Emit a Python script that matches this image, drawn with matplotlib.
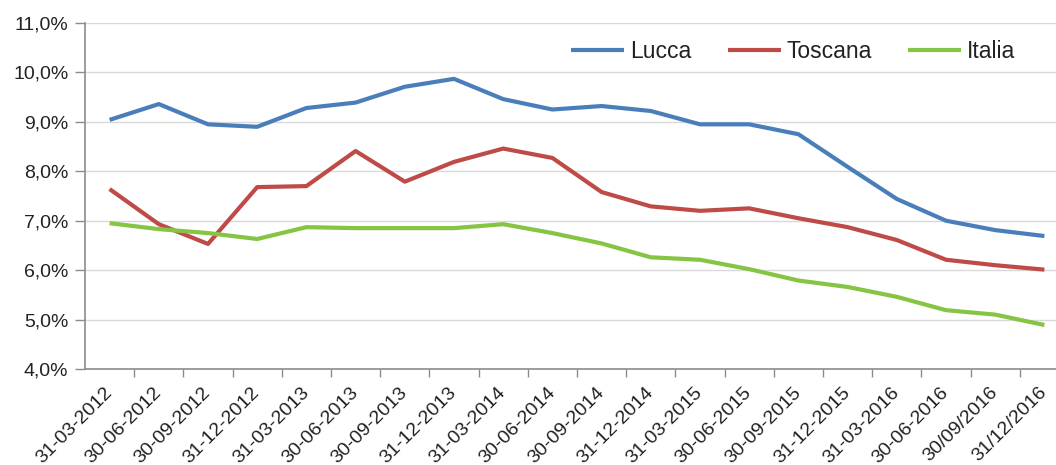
import matplotlib
matplotlib.use("Agg")
import matplotlib.pyplot as plt
from matplotlib.ticker import FuncFormatter, FixedLocator

# Quarterly dates
dates = [
    "31-03-2012", "30-06-2012", "30-09-2012", "31-12-2012",
    "31-03-2013", "30-06-2013", "30-09-2013", "31-12-2013",
    "31-03-2014", "30-06-2014", "30-09-2014", "31-12-2014",
    "31-03-2015", "30-06-2015", "30-09-2015", "31-12-2015",
    "31-03-2016", "30-06-2016", "30/09/2016", "31/12/2016",
]

# Rates in percent
lucca = [9.04, 9.36, 8.95, 8.90, 9.28, 9.39, 9.71, 9.87, 9.46, 9.25,
         9.32, 9.22, 8.95, 8.95, 8.75, 8.09, 7.44, 7.00, 6.81, 6.69]
toscana = [7.64, 6.93, 6.53, 7.68, 7.70, 8.41, 7.79, 8.19, 8.46, 8.27,
           7.58, 7.29, 7.20, 7.25, 7.05, 6.87, 6.61, 6.21, 6.10, 6.01]
italia = [6.95, 6.83, 6.75, 6.63, 6.87, 6.85, 6.85, 6.85, 6.93, 6.75,
          6.54, 6.26, 6.21, 6.02, 5.79, 5.66, 5.46, 5.19, 5.10, 4.89]

series = [("Lucca", lucca, "#4A7EBB"),
          ("Toscana", toscana, "#BE4B48"),
          ("Italia", italia, "#86C443")]

plt.rcParams["font.family"] = ["Liberation Sans", "DejaVu Sans"]

fig = plt.figure(figsize=(10.56, 4.65), dpi=100)
ax = fig.add_axes([85 / 1056, 96 / 465, 984 / 1056, 346 / 465])

x = list(range(len(dates)))
for name, vals, color in series:
    ax.plot(x, vals, color=color, lw=3.0, label=name, solid_joinstyle="round",
            solid_capstyle="butt", zorder=3)

ax.set_xlim(-0.5, len(dates) - 0.5)
ax.set_ylim(4, 11)
ax.set_yticks(range(4, 12))
ax.yaxis.set_major_formatter(FuncFormatter(lambda v, p: f"{v:.1f}%".replace(".", ",")))
ax.grid(axis="y", color="#D9D9D9", lw=1.0, zorder=0)
ax.set_axisbelow(True)

# category ticks sit between points, labels under points
ax.xaxis.set_major_locator(FixedLocator([i + 0.5 for i in range(len(dates) - 1)]))
ax.xaxis.set_major_formatter(FuncFormatter(lambda v, p: ""))
ax.set_xticks(x, minor=True)
ax.set_xticklabels(dates, minor=True, rotation=45, ha="right", va="center",
                   rotation_mode="anchor", fontsize=14, color="#222222")
ax.tick_params(axis="x", which="minor", length=0, pad=15)
ax.tick_params(axis="x", which="major", length=6, color="#8C8C8C", width=1)
ax.tick_params(axis="y", length=7, color="#8C8C8C", width=1, labelsize=14,
               labelcolor="#222222", pad=5)

for side in ("top", "right"):
    ax.spines[side].set_visible(False)
for side in ("left", "bottom"):
    ax.spines[side].set_color("#8C8C8C")
    ax.spines[side].set_linewidth(1.2)

leg = fig.legend(loc="center right", bbox_to_anchor=(1015 / 1056, 1 - 52 / 465),
                 ncol=3, frameon=False, fontsize=16.5, handlelength=2.3,
                 handletextpad=0.25, columnspacing=1.6, borderpad=0,
                 borderaxespad=0)
for t in leg.get_texts():
    t.set_color("#222222")

fig.savefig("out.png", dpi=100)
